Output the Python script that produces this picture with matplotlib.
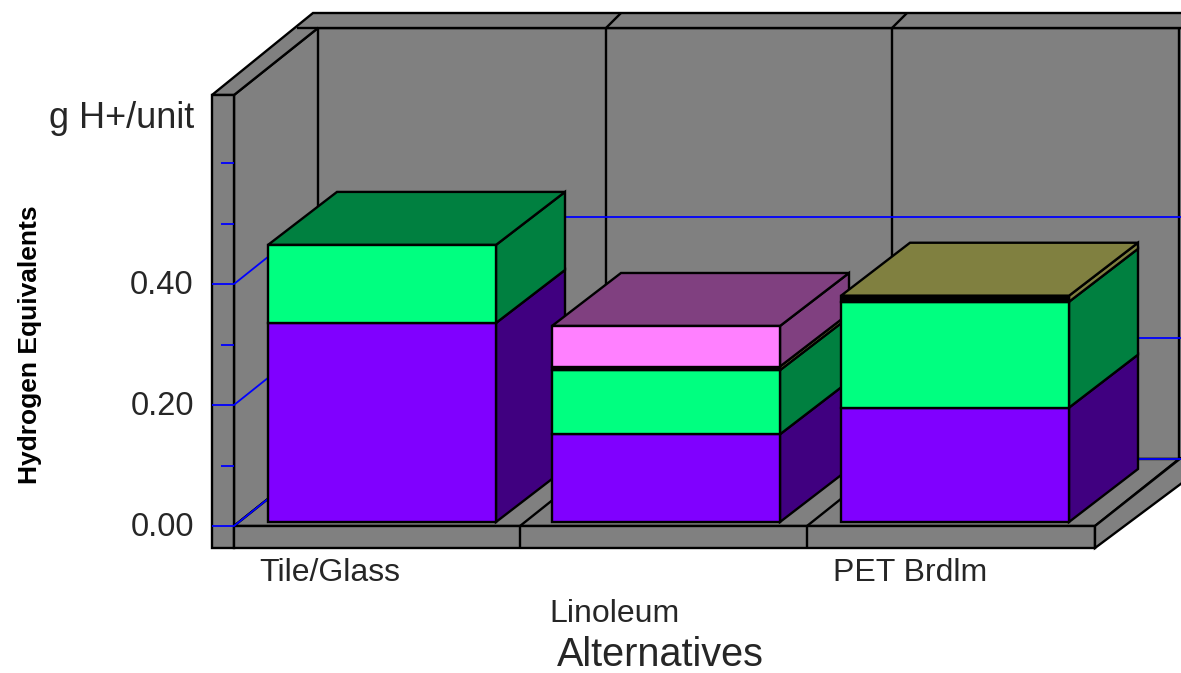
import matplotlib
matplotlib.use("Agg")
import matplotlib.pyplot as plt
from matplotlib.patches import Polygon
from matplotlib.transforms import Affine2D

plt.rcParams['font.family'] = ['Liberation Sans', 'DejaVu Sans']

categories = ["Tile/Glass", "Linoleum", "PET Brdlm"]
series_1 = [0.329, 0.145, 0.189]
series_2 = [0.129, 0.106, 0.175]
series_3 = [0.000, 0.006, 0.010]
series_4 = [0.000, 0.067, 0.000]
major_ticks = [0.0, 0.2, 0.4]
minor_ticks = [0.1, 0.3, 0.5, 0.6]
tick_labels = ["0.00", "0.20", "0.40"]

# the third series is so thin that its outline swallows the fill
FRONT = ["#8000ff", "#00ff80", "#000000", "#ff80ff"]
SIDE = ["#400080", "#008040", "#808040", "#804080"]
GREY = "#808080"
BLUE = "#0000ff"
TEXT = "#262626"

W, H = 1181, 673
PX_PER_UNIT = 605.0   # pixels per 1.0 g H+/unit
BASE_Y = 526          # pixel row of value 0 on the wall plane
DEPTH_X, DEPTH_Y = 84, 67      # wall depth in pixels
BAR_DX, BAR_DY = 69, 53        # bar depth in pixels
BAR_LIFT = 4                   # bars stand a little behind the front edge
BAR_WIDTH = 228
bar_centers = [382, 666, 955]
LEFT = 200
EDGE = 1.7


def val(py):
    # pixel row to value on the wall plane
    return (BASE_Y - py) / PX_PER_UNIT


def row(v):
    return BASE_Y - v * PX_PER_UNIT


fig = plt.figure(figsize=(W / 100, H / 100), dpi=100, facecolor="white")
ax = fig.add_axes([LEFT / W, 0, 1 - LEFT / W, 1])
ax.set_xlim(LEFT, W)
ax.set_ylim(val(H), val(0))
ax.patch.set_visible(False)
for s in ax.spines.values():
    s.set_visible(False)
ax.set_xticks([])
ax.set_yticks(major_ticks)
ax.set_yticklabels(tick_labels, fontsize=23.5, color=TEXT)
ax.tick_params(axis="y", length=0, pad=4.5)
for t in ax.get_yticklabels():
    t.set_transform(t.get_transform() + Affine2D().translate(0, 2))


def face(points, color=GREY, lw=EDGE, z=1):
    # polygon given in pixel positions
    xy = [(x, val(y)) for x, y in points]
    ax.add_patch(Polygon(xy, closed=True, facecolor=color, edgecolor="black",
                         linewidth=lw, joinstyle="miter", zorder=z))


def line(xs, ys, color="black", lw=EDGE, z=2):
    ax.plot(xs, [val(y) for y in ys], color=color, linewidth=lw, zorder=z,
            solid_capstyle="butt")


# walls and floor
face([(234, 95), (318, 28), (W + 5, 28), (W + 5, 459), (318, 459), (234, 526)])
face([(212, 95), (313, 13), (W + 5, 13), (W + 5, 28), (318, 28), (234, 95)])
line([297, 318], [28, 28])
face([(212, 95), (234, 95), (234, 548), (212, 548)])
face([(234, 526), (318, 459), (1179, 459), (1095, 526)])
face([(234, 526), (1095, 526), (1095, 548), (234, 548)])
face([(1095, 526), (1181, 458), (W + 5, 458), (W + 5, 480), (1095, 548)])

# wall dividers
for x in [318, 606, 892, 1179]:
    line([x, x], [28, 459])
for x in [606, 892]:
    line([x, x + 15], [28, 13])
for x in [520, 807]:
    line([x, x], [526, 548])
    line([x, x + DEPTH_X], [526, 459])

# gridlines run along the left wall and on across the back wall
for v in major_ticks:
    y = row(v)
    line([212, 234, 318, W], [y, y, y - DEPTH_Y, y - DEPTH_Y], color=BLUE, lw=1.3, z=3)
for v in minor_ticks:
    y = row(v)
    line([221, 234], [y, y], color=BLUE, lw=1.3, z=3)

# stacked boxes, nearest last so each hides the side of the one before
lift = ax.transData + Affine2D().translate(0, BAR_LIFT)
dx = BAR_DX
dy = BAR_DY / PX_PER_UNIT
stacks = [series_1, series_2, series_3, series_4]
for i, center in enumerate(bar_centers):
    bottom = 0.0
    z = 10 + i
    left = center - BAR_WIDTH / 2
    right = center + BAR_WIDTH / 2
    top_color = SIDE[0]
    for k, values in enumerate(stacks):
        h = values[i]
        if h <= 0:
            continue
        ax.add_patch(Polygon([(right, bottom), (right + dx, bottom + dy),
                              (right + dx, bottom + h + dy), (right, bottom + h)],
                             closed=True, facecolor=SIDE[k], edgecolor="black",
                             linewidth=EDGE, zorder=z, transform=lift))
        ax.bar(center, h, width=BAR_WIDTH, bottom=bottom, color=FRONT[k],
               edgecolor="black", linewidth=EDGE, zorder=z + 0.5, transform=lift)
        bottom += h
        top_color = SIDE[k]
    ax.add_patch(Polygon([(left, bottom), (left + dx, bottom + dy),
                          (right + dx, bottom + dy), (right, bottom)],
                         closed=True, facecolor=top_color, edgecolor="black",
                         linewidth=EDGE, zorder=z + 0.2, transform=lift))

ax.set_xlim(LEFT, W)
ax.set_ylim(val(H), val(0))


def label(x, y, text, size, **kw):
    ax.text(x, val(y), text, fontsize=size, color=TEXT, ha="center", va="center", **kw)


label(122, 118, "g H+/unit", 26)
label(330, 573, categories[0], 23)
label(614, 614, categories[1], 23)
label(910, 573, categories[2], 23)
label(660, 655, "Alternatives", 28.5)
ax.text(30, val(345), "Hydrogen Equivalents", fontsize=19, fontweight="bold",
        rotation=90, ha="center", va="center", color="black")

fig.savefig("out.png", dpi=100)
